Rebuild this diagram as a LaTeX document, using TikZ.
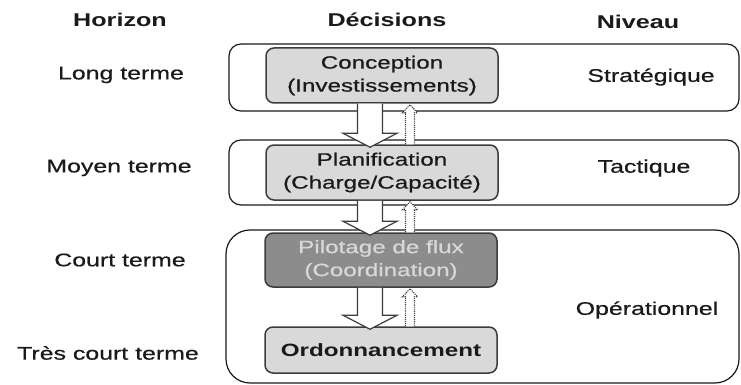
\documentclass[tikz,border=0pt]{standalone}
\usepackage{fontspec}
\setmainfont{Liberation Sans}[FakeStretch=1.36, UprightFeatures={FakeBold=0.6}]
\usetikzlibrary{calc}
\definecolor{inkc}{HTML}{1A1A1A}
\definecolor{lightbox}{HTML}{D9D9D9}
\definecolor{darkbox}{HTML}{8C8C8C}
\definecolor{darktext}{HTML}{D8D8D8}
\definecolor{edgec}{HTML}{3C3C3C}
\tikzset{
  hdr/.style={font=\bfseries\fontsize{18.5}{20}\selectfont, text=inkc},
  lbl/.style={font=\fontsize{18.3}{20}\selectfont, text=inkc},
  outerbox/.style={draw=inkc, line width=1.2pt, rounded corners=12pt, fill=white},
  innerbox/.style={draw=edgec, line width=1.5pt, rounded corners=8pt, fill=lightbox,
    minimum width=232pt, align=center, text=inkc,
    font=\fontsize{17.8}{23}\selectfont},
  blockarr/.style={draw=edgec, line width=1.2pt, fill=white},
  dotarr/.style={draw=edgec, line width=1.1pt, densely dotted, fill=white},
}
\newcommand\downarrowblock[2]{%
  \filldraw[blockarr] ($(#1.south -| dx)+(-12.5,0)$) -- ($(#2.north -| dx)+(-12.5,-11)$)
    -- ($(#2.north -| dx)+(-27,-11)$) -- ($(#2.north -| dx)+(0,3)$)
    -- ($(#2.north -| dx)+(27,-11)$) -- ($(#2.north -| dx)+(12.5,-11)$)
    -- ($(#1.south -| dx)+(12.5,0)$);}
\newcommand\uparrowblock[2]{%
  \filldraw[dotarr] ($(#2.north -| ux)+(-4.5,0)$) -- ($(#1.south -| ux)+(-4.5,9)$)
    -- ($(#1.south -| ux)+(-7.5,9)$) -- ($(#1.south -| ux)+(0,1)$)
    -- ($(#1.south -| ux)+(7.5,9)$) -- ($(#1.south -| ux)+(4.5,9)$)
    -- ($(#2.north -| ux)+(4.5,0)$);}
\begin{document}
\begin{tikzpicture}[x=1pt,y=-1pt]
\useasboundingbox (0,0) rectangle (741,385);
\coordinate (dx) at (370,0);
\coordinate (ux) at (410,0);
% headers
\node[hdr] (hh) at (120,20) {Horizon};
\node[hdr] (hd) at (387,20) {Décisions};
\node[hdr] (hn) at (638,22) {Niveau};
% outer boxes
\node[outerbox, minimum width=510pt, minimum height=67pt] (o1) at (484,77.5) {};
\node[outerbox, minimum width=510pt, minimum height=65pt] (o2) at (484,172.5) {};
\node[outerbox, rounded corners=24pt, minimum width=513pt, minimum height=153pt] (o3) at (482.5,306.5) {};
% inner boxes
\node[innerbox, minimum height=55pt] (c) at (382,75.5) {Conception\\(Investissements)};
\node[innerbox, minimum height=55pt] (p) at (382,172.5) {Planification\\(Charge/Capacité)};
\node[innerbox, minimum height=54pt, fill=darkbox, text=darktext] (f) at (381,260) {Pilotage de flux\\(Coordination)};
\node[innerbox, minimum height=46pt, font=\bfseries\fontsize{17.8}{23}\selectfont] (o) at (381,350) {Ordonnancement};
% arrows
\downarrowblock{c}{p}
\downarrowblock{p}{f}
\downarrowblock{f}{o}
\uparrowblock{c}{p}
\uparrowblock{p}{f}
\uparrowblock{f}{o}
% horizon labels
\node[lbl] (l1) at (121,75) {Long terme};
\node[lbl] (l2) at (119,168) {Moyen terme};
\node[lbl] (l3) at (120,260) {Court terme};
\node[lbl] (l4) at (108,353) {Très court terme};
% level labels
\node[lbl] (n1) at (651,77) {Stratégique};
\node[lbl] (n2) at (644,168) {Tactique};
\node[lbl] (n3) at (647,310) {Opérationnel};
\end{tikzpicture}
\end{document}
